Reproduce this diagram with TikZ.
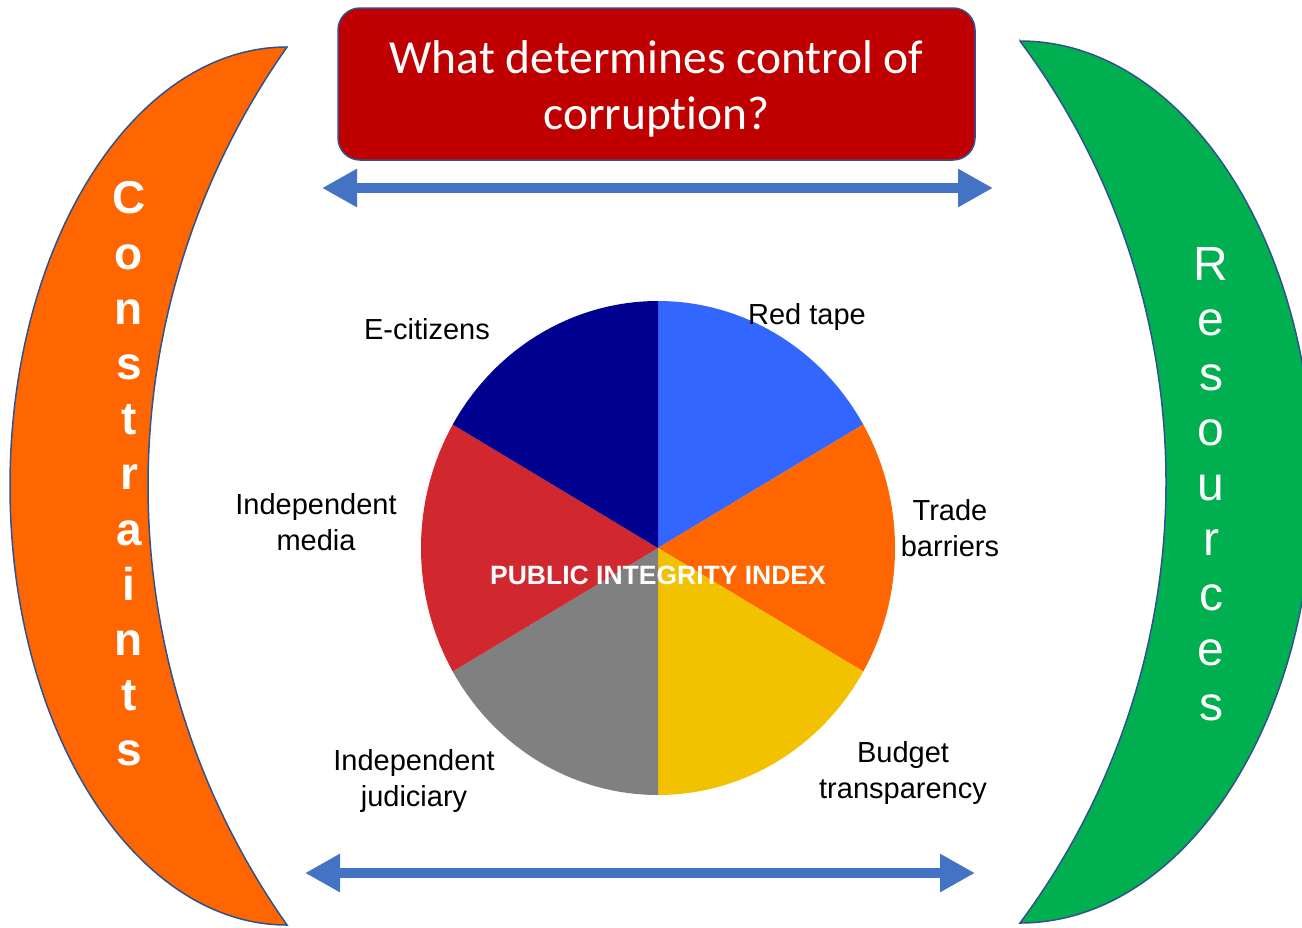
\documentclass[tikz,border=0pt]{standalone}
\usepackage{fontspec}
\setmainfont{Liberation Sans}
\newfontfamily\titlefont[Ligatures={NoCommon,NoDiscretionary,NoRare}]{Carlito}
\usetikzlibrary{arrows.meta}
\definecolor{outl}{HTML}{2F528F}
\definecolor{boxred}{HTML}{C00000}
\definecolor{orng}{HTML}{FF6600}
\definecolor{grn}{HTML}{00B050}
\definecolor{arrblue}{HTML}{4472C4}
\definecolor{pblue}{HTML}{3366FF}
\definecolor{pnavy}{HTML}{000090}
\definecolor{pred}{HTML}{D0282E}
\definecolor{pgray}{HTML}{808080}
\definecolor{pyellow}{HTML}{F2C200}
\begin{document}
\begin{tikzpicture}[x=1pt,y=-1pt,
  crescent/.style={draw=outl,line width=1.5pt},
  dblarrow/.style={draw=arrblue,line width=10pt,{Triangle[length=35pt,width=36pt]}-{Triangle[length=35pt,width=36pt]}},
  lbl/.style={font=\fontsize{29}{36}\selectfont,align=center,text=black,inner sep=0pt},
  sidetext/.style={text=white,align=center,inner sep=0pt}
]
\useasboundingbox (0,0) rectangle (1302,927);

% left crescent (Constraints)
\filldraw[crescent,fill=orng] (287,47) arc[start angle=-90,end angle=-270,x radius=277,y radius=439]
  arc[start angle=144.86,end angle=215.14,radius=762.7] -- cycle;
% right crescent (Resources)
\filldraw[crescent,fill=grn] (1020,41) arc[start angle=-90,end angle=90,x radius=293,y radius=441]
  arc[start angle=36.64,end angle=-36.64,radius=739] -- cycle;

\node[sidetext,font=\bfseries\fontsize{46}{55.2}\selectfont] (constraints) at (129,474)
  {C\\o\\n\\s\\t\\r\\a\\i\\n\\t\\s};
\node[sidetext,font=\fontsize{48}{55}\selectfont] (resources) at (1211,484)
  {R\\e\\s\\o\\u\\r\\c\\e\\s};

% title
\node[draw=outl,line width=1.5pt,fill=boxred,rounded corners=22pt,minimum width=637pt,minimum height=152pt]
  (title) at (656.5,84) {};
\node[text=white,align=center,inner sep=0pt,font=\titlefont\fontsize{47.5}{56}\selectfont] (titletext) at (656.5,89)
  {What determines control of\\corruption?};

% arrows
\coordinate (tl) at (322,188);
\coordinate (tr) at (993,188);
\coordinate (bl) at (305,873);
\coordinate (br) at (975,873);
\draw[dblarrow] (tl) -- (tr);
\draw[dblarrow] (bl) -- (br);

% pie
\coordinate (pc) at (658,548);
\fill[pblue] (pc) -- ++(-90:237 and 247) arc[start angle=-90,end angle=-30,x radius=237,y radius=247] -- cycle;
\fill[orng] (pc) -- ++(-30:237 and 247) arc[start angle=-30,end angle=30,x radius=237,y radius=247] -- cycle;
\fill[pyellow] (pc) -- ++(30:237 and 247) arc[start angle=30,end angle=90,x radius=237,y radius=247] -- cycle;
\fill[pgray] (pc) -- ++(90:237 and 247) arc[start angle=90,end angle=150,x radius=237,y radius=247] -- cycle;
\fill[pred] (pc) -- ++(150:237 and 247) arc[start angle=150,end angle=210,x radius=237,y radius=247] -- cycle;
\fill[pnavy] (pc) -- ++(210:237 and 247) arc[start angle=210,end angle=270,x radius=237,y radius=247] -- cycle;

\node[text=white,font=\bfseries\fontsize{26.5}{30}\selectfont,inner sep=0pt] (pii) at (658,575) {PUBLIC INTEGRITY INDEX};

\node[lbl] (ecit) at (427,329) {E-citizens};
\node[lbl] (redtape) at (807,317) {Red tape};
\node[lbl] (trade) at (950,528) {Trade\\barriers};
\node[lbl] (media) at (316,522) {Independent\\media};
\node[lbl] (judic) at (414,781) {Independent\\judiciary};
\node[lbl] (budget) at (903,773) {Budget\\transparency};
\end{tikzpicture}
\end{document}
